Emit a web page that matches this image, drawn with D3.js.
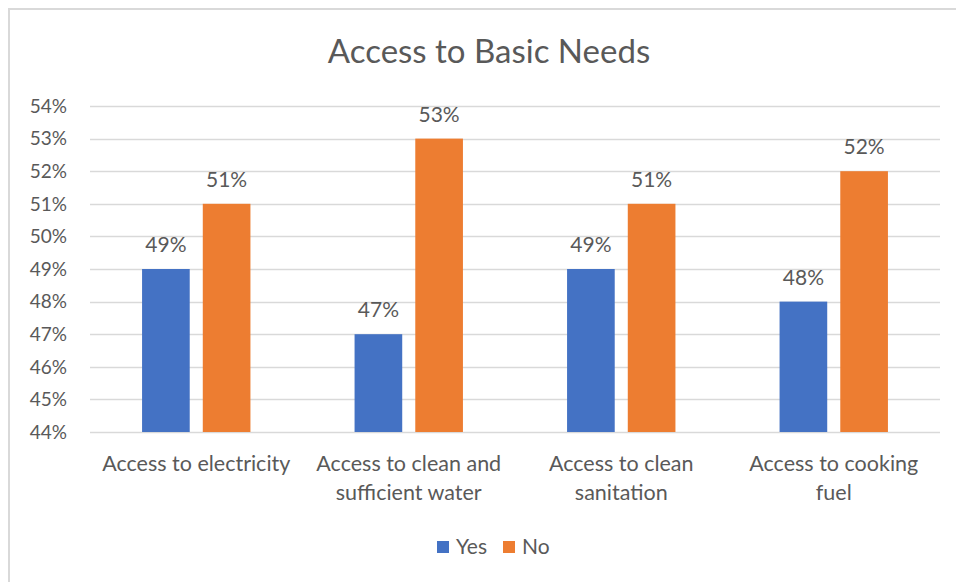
<!DOCTYPE html>
<html>
<head>
<meta charset="utf-8">
<script src="https://cdn.jsdelivr.net/npm/d3@7"></script>
<style>
  body { margin: 0; background: #fff; }
  text { font-family: Lato, "Open Sans", sans-serif; fill: #595959; }
</style>
</head>
<body>
<div id="chart"></div>
<script>
// data
var categories = ["Access to electricity", "Access to clean and sufficient water",
  "Access to clean sanitation", "Access to cooking fuel"];
var categoryLines = [["Access to electricity"], ["Access to clean and", "sufficient water"],
  ["Access to clean", "sanitation"], ["Access to cooking", "fuel"]];
var series = ["Yes", "No"];
var yesValues = [49, 47, 49, 48];
var noValues = [51, 53, 51, 52];
var yTicks = [44, 45, 46, 47, 48, 49, 50, 51, 52, 53, 54];
var colors = {"Yes": "#4472C4", "No": "#ED7D31"};

var width = 956;
var height = 582;
var svg = d3.select("#chart").append("svg")
  .attr("width", width)
  .attr("height", height);

// chart frame (only top/left edges visible in the picture)
svg.append("rect")
  .attr("x", 9).attr("y", 9)
  .attr("width", 1200).attr("height", 1200)
  .attr("fill", "none")
  .attr("stroke", "#d9d9d9")
  .attr("stroke-width", 2);

svg.append("text")
  .attr("x", 489).attr("y", 63)
  .attr("text-anchor", "middle")
  .style("font-size", "33px")
  .text("Access to Basic Needs");

var x0 = d3.scaleBand()
  .domain(categories)
  .range([90, 940])
  .paddingInner(0.49)
  .paddingOuter(0.245);

var x1 = d3.scaleBand()
  .domain(series)
  .range([0, x0.bandwidth()])
  .paddingInner(0.215);

var y = d3.scaleLinear()
  .domain([44, 54])
  .range([432, 106]);

// gridlines
svg.append("g")
  .selectAll("line")
  .data(yTicks)
  .enter().append("line")
  .attr("x1", 90).attr("x2", 940)
  .attr("y1", d => Math.round(y(d)) + 0.5)
  .attr("y2", d => Math.round(y(d)) + 0.5)
  .attr("stroke", "#d9d9d9")
  .attr("stroke-width", 1.5);

// y tick labels
svg.append("g")
  .selectAll("text")
  .data(yTicks)
  .enter().append("text")
  .attr("x", 67)
  .attr("y", d => y(d))
  .attr("dy", "0.36em")
  .attr("text-anchor", "end")
  .style("font-size", "19px")
  .text(d => d + "%");

var rows = categories.map(function(c, i) {
  return {cat: c, values: [{s: "Yes", v: yesValues[i]}, {s: "No", v: noValues[i]}]};
});

var group = svg.append("g")
  .selectAll("g")
  .data(rows)
  .enter().append("g")
  .attr("transform", d => "translate(" + x0(d.cat) + ",0)");

group.selectAll("rect")
  .data(d => d.values)
  .enter().append("rect")
  .attr("x", d => x1(d.s))
  .attr("y", d => y(d.v))
  .attr("width", x1.bandwidth())
  .attr("height", d => y(44) - y(d.v))
  .attr("fill", d => colors[d.s]);

group.selectAll("text")
  .data(d => d.values)
  .enter().append("text")
  .attr("x", d => x1(d.s) + x1.bandwidth() / 2)
  .attr("y", d => y(d.v) - 17)
  .attr("text-anchor", "middle")
  .style("font-size", "21px")
  .text(d => d.v + "%");

// category labels
var catLabel = svg.append("g")
  .selectAll("text")
  .data(categories)
  .enter().append("text")
  .attr("text-anchor", "middle")
  .style("font-size", "21.5px");

catLabel.selectAll("tspan")
  .data((d, i) => categoryLines[i].map(l => ({cat: d, line: l})))
  .enter().append("tspan")
  .attr("x", d => x0(d.cat) + x0.bandwidth() / 2)
  .attr("y", (d, i) => 471 + i * 29)
  .text(d => d.line);

// legend
var legend = svg.append("g")
  .selectAll("g")
  .data(series)
  .enter().append("g")
  .attr("transform", (d, i) => "translate(" + (437 + i * 66) + ",541)");

legend.append("rect")
  .attr("width", 12).attr("height", 12)
  .attr("fill", d => colors[d]);

legend.append("text")
  .attr("x", 19).attr("y", 12.5)
  .style("font-size", "21px")
  .text(d => d);
</script>
</body>
</html>
